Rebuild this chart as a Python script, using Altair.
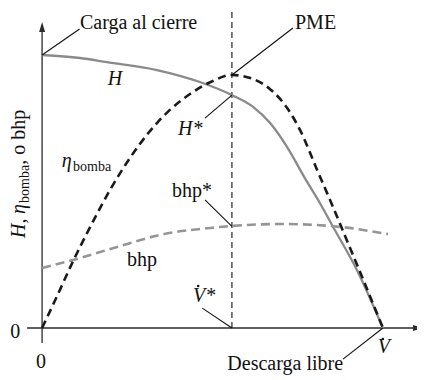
import altair as alt
import pandas as pd

# ---------------- data (flow in arbitrary units: 0 = shutoff, 10 = free delivery) -------------
q_head = [0, 1.11, 1.90, 3.37, 4.63, 5.57, 6.19, 6.69, 7.19, 7.71, 8.15, 8.54, 9.24, 10.0]
head = [10.0, 9.89, 9.74, 9.45, 9.01, 8.53, 8.10, 7.51, 6.63, 5.49, 4.58, 3.70, 2.12, 0.0]

q_eff = [0, 0.44, 0.91, 1.44, 1.99, 2.58, 3.17, 3.75, 4.34, 5.01, 5.57, 6.19, 6.69, 7.19,
         7.57, 8.07, 8.51, 8.89, 9.33, 10.0]
eff = [0, 1.17, 2.45, 3.77, 5.05, 6.23, 7.22, 7.99, 8.57, 9.05, 9.27, 9.12, 8.75, 8.06,
       7.25, 5.79, 4.51, 3.37, 2.05, 0.0]

q_bhp = [0, 0.91, 2.20, 3.46, 5.22, 5.57, 7.07, 8.45, 10.15]
bhp = [2.20, 2.49, 2.97, 3.41, 3.70, 3.74, 3.81, 3.74, 3.44]

q_bep = 5.57

# ---------------- scales ----------------
X_DOM = [-1.0, 11.0]
Y_DOM = [-1.904, 11.722]
xs = alt.Scale(domain=X_DOM, nice=False, zero=False)
ys = alt.Scale(domain=Y_DOM, nice=False, zero=False)


def X(f):
    return alt.X(f, type="quantitative", scale=xs, axis=None)


def Y(f):
    return alt.Y(f, type="quantitative", scale=ys, axis=None)


def X2(f):
    return alt.X2(f)


def Y2(f):
    return alt.Y2(f)


FONT = "Liberation Serif"
AX = "#2b2b2b"

df_h = pd.DataFrame({"q": q_head, "v": head})
df_e = pd.DataFrame({"q": q_eff, "v": eff})
df_b = pd.DataFrame({"q": q_bhp, "v": bhp})

h_line = alt.Chart(df_h).mark_line(color="#8a8a8a", strokeWidth=2.3, interpolate="monotone").encode(
    x=X("q"), y=Y("v"))
b_line = alt.Chart(df_b).mark_line(color="#959595", strokeWidth=2.6, strokeDash=[9, 5],
                                   interpolate="monotone").encode(x=X("q"), y=Y("v"))
e_line = alt.Chart(df_e).mark_line(color="#1a1a1a", strokeWidth=2.6, strokeDash=[8, 5],
                                   interpolate="monotone").encode(x=X("q"), y=Y("v"))

# axes
axes_df = pd.DataFrame({"q1": [0, -0.44], "y1": [-0.55, 0], "q2": [0, 10.9], "y2": [10.84, 0]})
axes = alt.Chart(axes_df).mark_rule(color=AX, strokeWidth=1.3).encode(
    x=X("q1"), y=Y("y1"), x2=X2("q2"), y2=Y2("y2"))

up_df = pd.DataFrame({"q": [0], "v": [11.03]})
up_arrow = alt.Chart(up_df).mark_point(shape="M0,-1L0.6,1L-0.6,1Z", filled=True, color=AX,
                                       size=100, opacity=1, strokeWidth=0).encode(x=X("q"), y=Y("v"))
rt_df = pd.DataFrame({"q": [11.03], "v": [0]})
rt_arrow = alt.Chart(rt_df).mark_point(shape="M1,0L-1,-0.6L-1,0.6Z", filled=True, color=AX,
                                       size=100, opacity=1, strokeWidth=0).encode(x=X("q"), y=Y("v"))

# BEP vertical line
bep_df = pd.DataFrame({"q1": [q_bep], "y1": [0], "y2": [11.65]})
bep = alt.Chart(bep_df).mark_rule(color="#111111", strokeWidth=1.1, strokeDash=[6, 4]).encode(
    x=X("q1"), y=Y("y1"), y2=Y2("y2"))

# leader lines
lead_df = pd.DataFrame({
    "q1": [0.0, 5.57, 4.78, 4.78, 4.70, 8.83],
    "y1": [10.0, 9.27, 7.69, 4.69, 0.73, -1.14],
    "q2": [1.1, 7.36, 5.57, 5.57, 5.57, 10.0],
    "y2": [10.95, 10.99, 8.53, 3.72, 0.0, 0.0],
})
leaders = alt.Chart(lead_df).mark_rule(color="#111111", strokeWidth=1.1).encode(
    x=X("q1"), y=Y("y1"), x2=X2("q2"), y2=Y2("y2"))


def texts(df, **kw):
    base = dict(font=FONT, fontSize=20, color="#111111", baseline="alphabetic", align="left")
    base.update(kw)
    return alt.Chart(df).mark_text(**base).encode(x=X("q"), y=Y("v"), text="t:N")


plain = texts(pd.DataFrame({
    "q": [1.11, 7.42, 3.81, 2.49],
    "v": [10.95, 10.95, 4.80, 2.27],
    "t": ["Carga al cierre", "PME", "bhp*", "bhp"],
}))
desc = texts(pd.DataFrame({"q": [8.83], "v": [-1.54], "t": ["Descarga libre"]}), align="right")
zeros = texts(pd.DataFrame({"q": [-0.79, -0.03], "v": [-0.37, -1.465], "t": ["0", "0"]}), align="center")
ital = texts(pd.DataFrame({
    "q": [1.93, 3.99, 0.58, 4.43],
    "v": [8.90, 7.07, 5.90, 0.95],
    "t": ["H", "H*", "η", "V*"],
}), fontStyle="italic")
vend = texts(pd.DataFrame({"q": [10.03], "v": [-0.916], "t": ["V"]}), fontStyle="italic", align="center")
sub = texts(pd.DataFrame({"q": [0.91], "v": [5.75], "t": ["bomba"]}), fontSize=14)

dots_df = pd.DataFrame({"q": [4.58, 10.0], "v": [1.54, -0.40]})
dots = alt.Chart(dots_df).mark_circle(color="#111111", size=6, opacity=1).encode(x=X("q"), y=Y("v"))

# rotated y-axis title pieces
yt_a = texts(pd.DataFrame({"q": [-0.50, -0.50], "v": [3.30, 4.18], "t": ["H,", "η"]}),
             angle=270, fontStyle="italic")
yt_b = texts(pd.DataFrame({"q": [-0.38], "v": [4.58], "t": ["bomba"]}), angle=270, fontSize=14)
yt_c = texts(pd.DataFrame({"q": [-0.50], "v": [5.98], "t": [", o bhp"]}), angle=270)

chart = alt.layer(
    axes, bep, h_line, b_line, e_line, leaders, up_arrow, rt_arrow,
    plain, desc, zeros, ital, vend, sub, dots, yt_a, yt_b, yt_c,
).properties(
    width=409, height=372, autosize=alt.AutoSizeParams(type="none"), padding=0,
).configure_view(stroke=None)

chart.save("out.html", embed_options={"renderer": "svg", "actions": False})
